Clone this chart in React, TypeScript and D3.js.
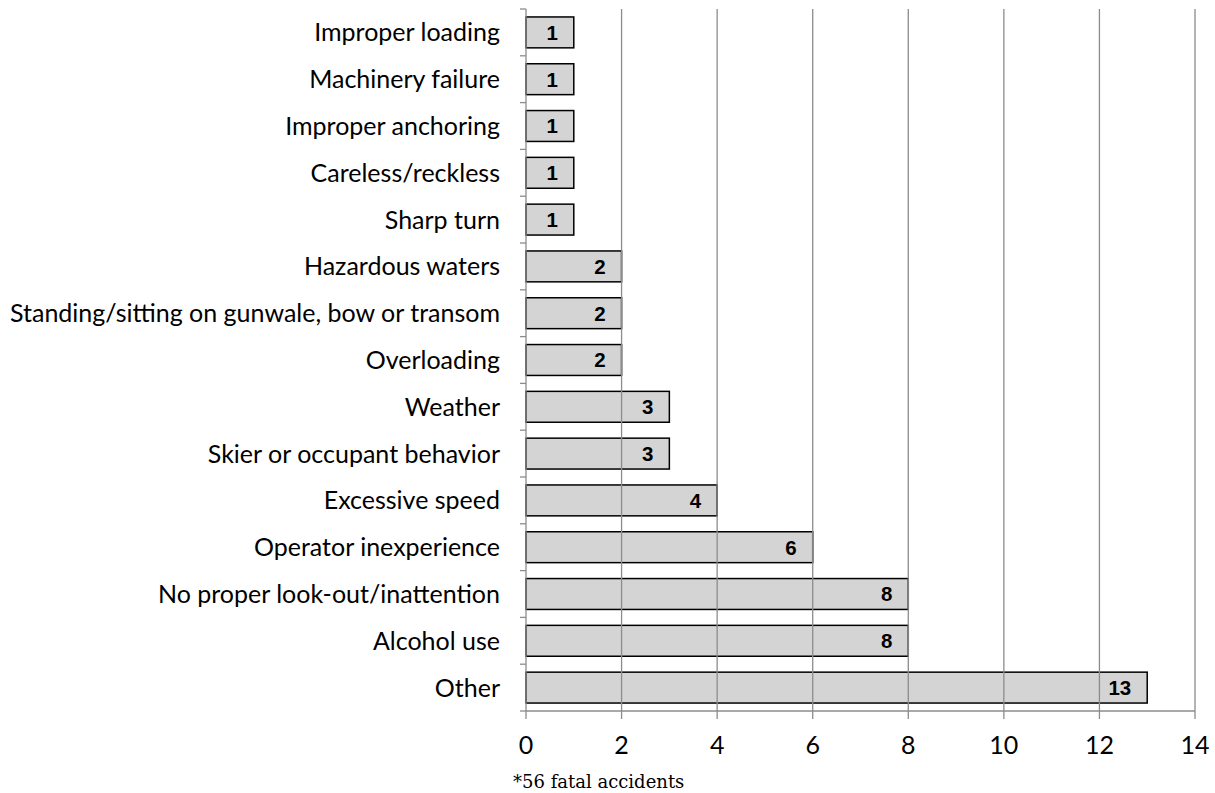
import React from "react";
import * as d3 from "d3";

const categories = [
  "Improper loading",
  "Machinery failure",
  "Improper anchoring",
  "Careless/reckless",
  "Sharp turn",
  "Hazardous waters",
  "Standing/sitting on gunwale, bow or transom",
  "Overloading",
  "Weather",
  "Skier or occupant behavior",
  "Excessive speed",
  "Operator inexperience",
  "No proper look-out/inattention",
  "Alcohol use",
  "Other",
];
const values = [1, 1, 1, 1, 1, 2, 2, 2, 3, 3, 4, 6, 8, 8, 13];
const xTicks = [0, 2, 4, 6, 8, 10, 12, 14];
const footnote = "*56 fatal accidents";

export default function App() {
  const W = 1215, H = 793;
  const x = d3.scaleLinear().domain([0, 14]).range([526, 1195]);
  const y = d3.scaleBand<string>().domain(categories).range([9, 711]).paddingInner(0.34).paddingOuter(0.17);
  const bandStep = (711 - 9) / categories.length;
  const bounds = d3.range(categories.length + 1).map((i) => 9 + i * bandStep);
  const grid = "#8c8c8c";
  const labelFont = "Lato, 'Open Sans', sans-serif";
  return (
    <svg width={W} height={H} style={{ position: "absolute", left: 0, top: 0, background: "#fff" }}>
      {categories.map((c, i) => (
        <rect
          key={c}
          x={x(0)}
          y={y(c)!}
          width={x(values[i]) - x(0)}
          height={y.bandwidth()}
          fill="#d4d4d4"
          stroke="#000"
          strokeWidth={1.5}
        />
      ))}
      {xTicks.slice(1).map((t) => (
        <line key={t} x1={x(t)} x2={x(t)} y1={9} y2={719} stroke={grid} strokeWidth={1.3} />
      ))}
      <line x1={x(0)} x2={x(0)} y1={9} y2={719} stroke={grid} strokeWidth={1.3} />
      <line x1={x(0)} x2={x(14)} y1={711} y2={711} stroke={grid} strokeWidth={1.3} />
      {bounds.map((b, i) => (
        <line key={i} x1={520} x2={x(0)} y1={b} y2={b} stroke={grid} strokeWidth={1.3} />
      ))}
      {categories.map((c, i) => (
        <g key={c + "t"}>
          <text
            x={x(values[i]) - 16}
            y={y(c)! + y.bandwidth() / 2}
            dy="0.36em"
            textAnchor="end"
            fontFamily="'Liberation Sans', Arial, sans-serif"
            fontWeight="bold"
            fontSize={20.5}
            fill="#000"
          >
            {values[i]}
          </text>
          <text
            x={500}
            y={y(c)! + y.bandwidth() / 2}
            dy="0.36em"
            textAnchor="end"
            fontFamily={labelFont}
            fontSize={25}
            fill="#000"
          >
            {c}
          </text>
        </g>
      ))}
      {xTicks.map((t) => (
        <text key={t} x={x(t)} y={745} dy="0.36em" textAnchor="middle" fontFamily={labelFont} fontSize={25} fill="#000">
          {t}
        </text>
      ))}
      <text x={513} y={788} fontFamily="'DejaVu Serif', 'Liberation Serif', serif" fontSize={18} fill="#000">
        {footnote}
      </text>
    </svg>
  );
}
